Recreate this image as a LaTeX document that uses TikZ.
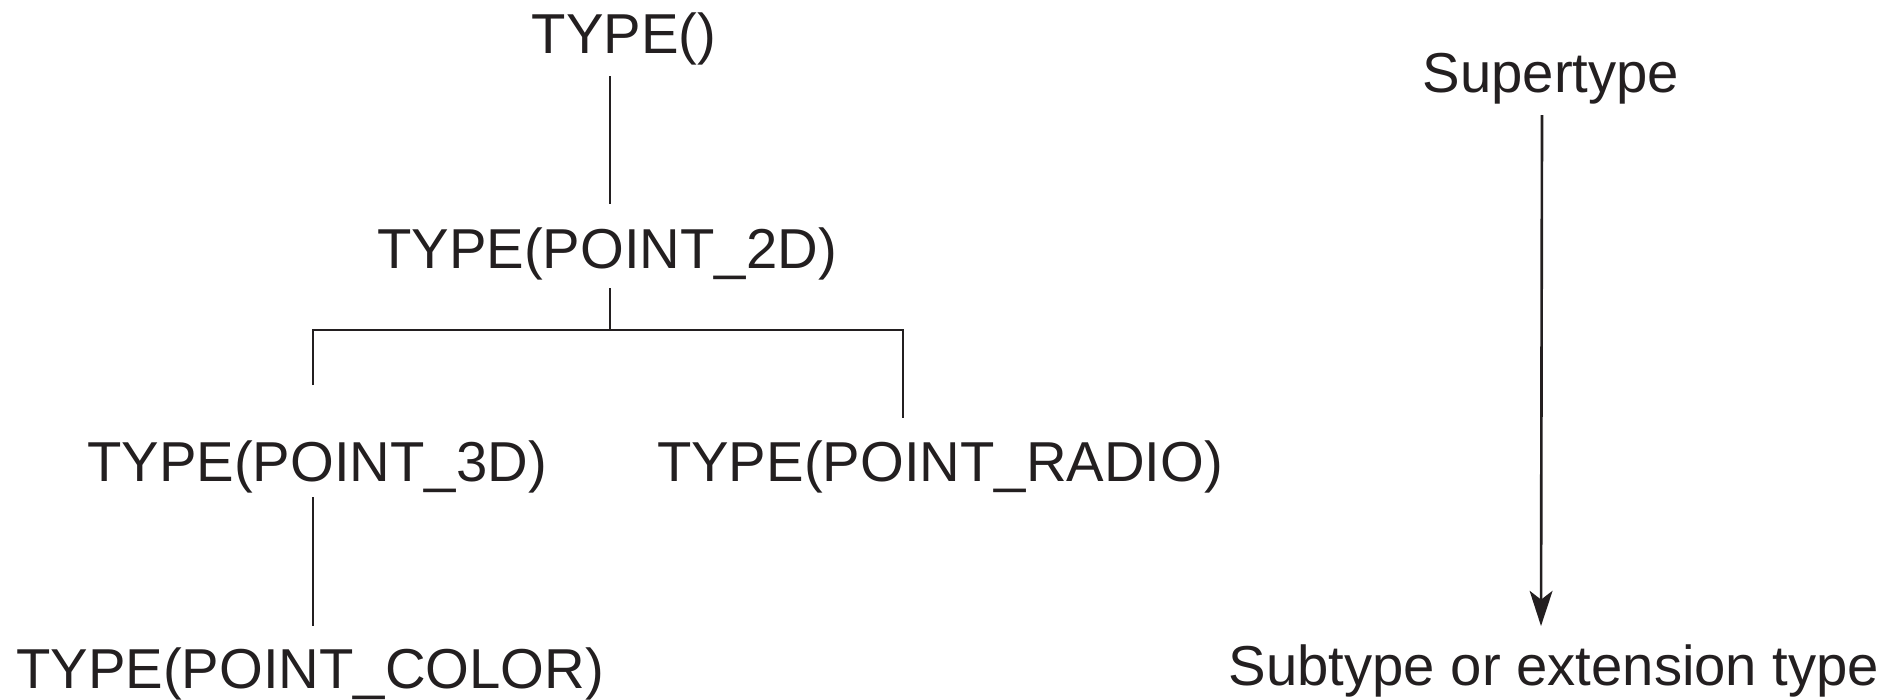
\documentclass[tikz,border=0pt]{standalone}
\usepackage{fontspec}
\setmainfont{Liberation Sans}
\usetikzlibrary{arrows.meta}
\definecolor{ink}{HTML}{231F20}
\begin{document}
\begin{tikzpicture}[x=0.01cm,y=-0.01cm,
  lbl/.style={anchor=base,inner sep=0pt,text=ink,font=\fontsize{16}{19}\selectfont},
  conn/.style={draw=ink,line width=0.75pt},
  arr/.style={conn,-{Stealth[length=10pt,width=6.5pt,inset=2.5pt]}}]
\useasboundingbox (0,0) rectangle (1900,699);
% nodes
\node[lbl] (t0)   at (624,53)  {TYPE()};
\node[lbl] (t2d)  at (607,268) {TYPE(POINT\_2D)};
\node[lbl] (t3d)  at (317,481) {TYPE(POINT\_3D)};
\node[lbl] (trad) at (940,481) {TYPE(POINT\_RADIO)};
\node[lbl] (tcol) at (310,688) {TYPE(POINT\_COLOR)};
\node[lbl] (sup)  at (1551,92) {Supertype};
\node[lbl] (sub)  at (1554,685) {Subtype or extension type};
% junction coordinates
\coordinate (a0) at (610,76);
\coordinate (a1) at (610,204);
\coordinate (b0) at (610,288);
\coordinate (jm) at (610,330);
\coordinate (jl) at (313,330);
\coordinate (jr) at (903,330);
\coordinate (l3) at (313,385);
\coordinate (r3) at (903,418);
\coordinate (c0) at (313,497);
\coordinate (c1) at (313,626);
\coordinate (s0) at (1542,115);
\coordinate (s1) at (1541,626);
% connectors
\draw[conn] (a0) -- (a1);
\draw[conn] (b0) -- (jm);
\draw[conn] (l3) -- (jl) -- (jr) -- (r3);
\draw[conn] (c0) -- (c1);
\draw[arr] (s0) -- (s1);
\end{tikzpicture}
\end{document}
